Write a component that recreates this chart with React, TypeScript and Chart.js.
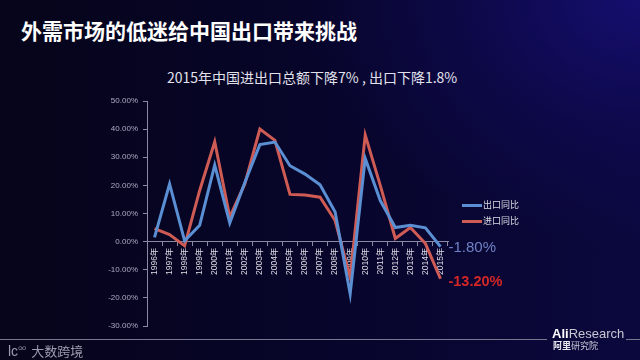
import React, { useEffect, useRef } from "react";
import { Chart, registerables } from "chart.js";

Chart.register(...registerables);

const years = [
  "1996年", "1997年", "1998年", "1999年", "2000年", "2001年", "2002年", "2003年", "2004年", "2005年",
  "2006年", "2007年", "2008年", "2009年", "2010年", "2011年", "2012年", "2013年", "2014年", "2015年",
];
const exportYoY = [1.5, 20.5, 0.3, 5.8, 27.2, 6.6, 21.0, 34.5, 35.4, 27.0, 24.0, 20.2, 10.5, -18.6, 29.6, 14.6, 5.0, 5.8, 4.9, -1.8];
const importYoY = [4.6, 2.5, -1.5, 18.2, 35.5, 8.7, 20.5, 40.0, 36.0, 16.8, 16.6, 15.8, 7.5, -12.7, 37.9, 20.0, 1.1, 5.0, -0.7, -13.2];
const seriesNames = ["出口同比", "进口同比"];
const endLabels = ["-1.80%", "-13.20%"];
const yTicks = { min: -30, max: 50, step: 10 };

const BLUE = "#5b8fd3";
const RED = "#cf5b55";
const CJK = '"Noto Sans CJK SC", "Noto Sans", sans-serif';

const endLabelPlugin = {
  id: "endLabels",
  afterDatasetsDraw(chart: any) {
    const ctx = chart.ctx;
    const styles = [
      { color: "#6f82c6", font: "400 15px 'Liberation Sans', Arial, sans-serif", dy: 1 },
      { color: "#d42626", font: "600 14.5px 'Liberation Sans', Arial, sans-serif", dy: 3 },
    ];
    chart.data.datasets.forEach((ds: any, i: number) => {
      const meta = chart.getDatasetMeta(i);
      const pt = meta.data[meta.data.length - 1];
      if (!pt) return;
      ctx.save();
      ctx.font = styles[i].font;
      ctx.fillStyle = styles[i].color;
      ctx.textAlign = "left";
      ctx.textBaseline = "middle";
      ctx.fillText(endLabels[i], pt.x + 8, pt.y + styles[i].dy);
      ctx.restore();
    });
  },
};

export default function App() {
  const ref = useRef<HTMLCanvasElement | null>(null);

  useEffect(() => {
    if (!ref.current) return;
    const chart = new Chart(ref.current, {
      type: "line",
      data: {
        labels: years,
        datasets: [
          {
            label: seriesNames[0],
            data: exportYoY,
            borderColor: BLUE,
            backgroundColor: BLUE,
            borderWidth: 3,
            pointRadius: 0,
            tension: 0,
          },
          {
            label: seriesNames[1],
            data: importYoY,
            borderColor: RED,
            backgroundColor: RED,
            borderWidth: 3,
            pointRadius: 0,
            tension: 0,
          },
        ],
      },
      options: {
        responsive: false,
        animation: false,
        layout: { padding: { left: 87, right: 192, top: 101, bottom: 34 } },
        plugins: {
          legend: { display: false },
          tooltip: { enabled: false },
        },
        scales: {
          x: {
            type: "category",
            position: { y: 0 } as any,
            offset: true,
            grid: {
              display: true,
              drawOnChartArea: false,
              drawTicks: true,
              tickLength: 4,
              color: "#8a8aa2",
              offset: true,
            },
            border: { display: true, color: "#8a8aa2", width: 1 },
            ticks: {
              autoSkip: false,
              minRotation: 90,
              maxRotation: 90,
              padding: 2,
              color: "#dcdce6",
              font: { size: 8.5, family: "'Liberation Sans', Arial, " + CJK },
            },
          },
          y: {
            min: yTicks.min,
            max: yTicks.max,
            afterFit: (s: any) => {
              s.width = 60;
            },
            grid: {
              display: true,
              drawOnChartArea: false,
              drawTicks: true,
              tickLength: 4,
              color: "#8a8aa2",
            },
            border: { display: true, color: "#8a8aa2", width: 1 },
            ticks: {
              stepSize: yTicks.step,
              padding: 5,
              color: "#acacc2",
              font: { size: 8, family: "'Liberation Sans', Arial, sans-serif" },
              callback: (v: any) => Number(v).toFixed(2) + "%",
            },
          },
        },
      },
      plugins: [endLabelPlugin],
    });
    return () => chart.destroy();
  }, []);

  return (
    <div
      style={{
        position: "fixed",
        left: 0,
        top: 0,
        width: 640,
        height: 360,
        overflow: "hidden",
        background:
          "radial-gradient(ellipse 70% 90% at 100% 0%, rgba(22,14,112,0.95) 0%, rgba(16,10,86,0.55) 40%, rgba(0,0,0,0) 75%), linear-gradient(90deg, #06051a 0%, #07052a 50%, #0b083e 100%)",
        fontFamily: CJK,
      }}
    >
      <div
        style={{
          position: "absolute",
          left: 21,
          top: 20,
          fontSize: 21,
          lineHeight: "21px",
          fontWeight: 700,
          color: "#ffffff",
          whiteSpace: "nowrap",
        }}
      >
        外需市场的低迷给中国出口带来挑战
      </div>
      <div
        style={{
          position: "absolute",
          left: 167,
          top: 70,
          fontSize: 14,
          lineHeight: "14px",
          color: "#e2e2ec",
          whiteSpace: "nowrap",
        }}
      >
        2015年中国进出口总额下降7% , 出口下降1.8%
      </div>
      <canvas ref={ref} width={640} height={360} style={{ position: "absolute", left: 0, top: 0, width: 640, height: 360 }} />
      {seriesNames.map((name, i) => (
        <div
          key={name}
          style={{
            position: "absolute",
            left: 462,
            top: 199 + i * 16,
            height: 12,
            display: "flex",
            alignItems: "center",
            whiteSpace: "nowrap",
          }}
        >
          <div style={{ width: 20, height: 3, background: i === 0 ? BLUE : RED }} />
          <span style={{ fontSize: 9, lineHeight: "12px", color: "#dcdce6", marginLeft: 1 }}>{name}</span>
        </div>
      ))}
      <div style={{ position: "absolute", left: 0, top: 339, width: 547, height: 1, background: "#77778f" }} />
      <div style={{ position: "absolute", left: 626, top: 339, width: 14, height: 1, background: "#77778f" }} />
      <div
        style={{
          position: "absolute",
          left: 8,
          top: 341,
          fontSize: 13,
          lineHeight: "14px",
          color: "#9c9cb0",
          whiteSpace: "nowrap",
        }}
      >
        <span style={{ fontFamily: "'Liberation Sans', sans-serif", fontSize: 14 }}>lc</span>
        <sup style={{ fontSize: 8 }}>∞</sup>
        <span style={{ marginLeft: 5 }}>大数跨境</span>
      </div>
      <div
        style={{
          position: "absolute",
          left: 552,
          top: 327,
          fontSize: 13,
          lineHeight: "14px",
          whiteSpace: "nowrap",
          fontFamily: "'Liberation Sans', Arial, sans-serif",
        }}
      >
        <span style={{ color: "#ffffff", fontWeight: 700 }}>Ali</span>
        <span style={{ color: "#c8c8d4" }}>Research</span>
      </div>
      <div
        style={{
          position: "absolute",
          left: 553,
          top: 341,
          fontSize: 9,
          lineHeight: "10px",
          whiteSpace: "nowrap",
          color: "#c8c8d4",
        }}
      >
        <span style={{ fontWeight: 700, color: "#e8e8f0" }}>阿里</span>
        <span>研究院</span>
      </div>
    </div>
  );
}
